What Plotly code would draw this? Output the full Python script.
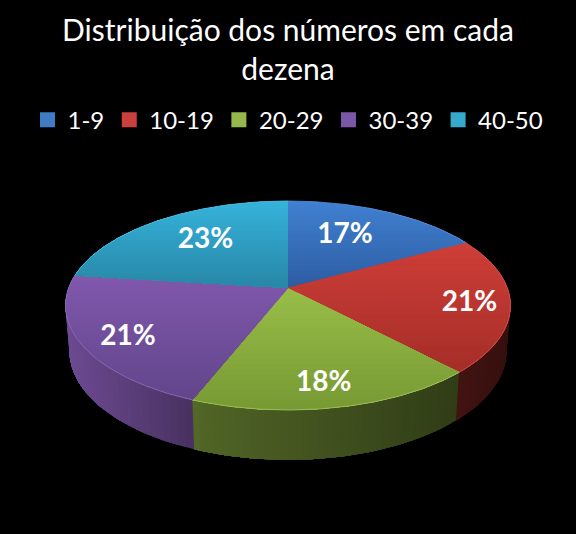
import numpy as np
import plotly.graph_objects as go

# chart data
faixas = ["1-9", "10-19", "20-29", "30-39", "40-50"]
percentuais = [17, 21, 18, 21, 23]
rotulos = ["17%", "21%", "18%", "21%", "23%"]

# colours of each slice: top and bottom of the gradient on the top face
cor_topo = [(64, 128, 208), (206, 62, 56), (152, 190, 72), (128, 88, 172), (54, 178, 218)]
cor_base = [(46, 94, 164), (166, 46, 40), (120, 154, 52), (98, 70, 140), (40, 136, 168)]
cor_legenda = ["#3f7cc4", "#c9403c", "#95b84a", "#7b57a8", "#35a8cc"]
# where the labels sit inside their slice
raio_rotulo = [0.66, 0.82, 0.807, 0.802, 0.674]
giro_rotulo = [-5, 0, 0.7, -1.8, 4]

# perspective of the disc, in pixels of the 576x534 page
CX, CY = 288, 288
A, B, K = 219.4, 101.6, 0.1675
A_FUNDO, B_FUNDO, Y_FUNDO = 215.5, 106, 332.5


def topo(t, r=1.0):
    """Point of the top face, t clockwise from 12 o'clock"""
    u, v = r * np.sin(t), r * np.cos(t)
    d = 1 + K * v
    return CX + A * u / d, CY - B * v / d


def fundo(t):
    """Point of the bottom rim"""
    u, v = np.sin(t), np.cos(t)
    d = 1 + K * v
    return CX + A_FUNDO * u / d, Y_FUNDO - B_FUNDO * v / d


def corta(pts, y_lim):
    """Keep the part of a polygon below a horizontal line"""
    saida = []
    for i in range(len(pts)):
        p, q = pts[i - 1], pts[i]
        if (p[1] >= y_lim) != (q[1] >= y_lim):
            f = (y_lim - p[1]) / (q[1] - p[1])
            saida.append((p[0] + f * (q[0] - p[0]), y_lim))
        if q[1] >= y_lim:
            saida.append(q)
    return saida


def mistura(c1, c2, f):
    return tuple(a + (b - a) * f for a, b in zip(c1, c2))


def rgb(c, fator=1.0):
    return "rgb(%d,%d,%d)" % tuple(min(255, int(v * fator)) for v in c)


def poligono(xs, ys, cor):
    return go.Scatter(
        x=list(xs), y=list(ys), mode="lines", fill="toself", fillcolor=cor,
        line=dict(width=0), hoverinfo="skip", showlegend=False,
    )


fig = go.Figure()

limites = np.cumsum([0] + percentuais) / sum(percentuais) * 2 * np.pi

# side wall first, the top face covers whatever is behind it
# each step paints up to the end of the slice so no seams show between steps
for i in range(len(percentuais)):
    ts = np.linspace(limites[i], limites[i + 1], 40)
    for k in range(len(ts) - 1):
        meio = (ts[k] + ts[k + 1]) / 2
        if np.cos(meio) > 0.35:
            continue
        resto = ts[k:]
        x_t, y_t = topo(resto)
        x_f, y_f = fundo(resto[::-1])
        luz = np.interp(topo(meio)[0], [66, 190, 200, 460, 511], [0.85, 0.57, 0.53, 0.32, 0.26])
        fig.add_trace(poligono(
            np.r_[x_t, x_f, x_t[0]], np.r_[y_t, y_f, y_t[0]], rgb(cor_topo[i], luz)
        ))

# top face, painted in bands from the top down for the gradient
for i in range(len(percentuais)):
    ts = np.linspace(limites[i], limites[i + 1], 120)
    ax, ay = topo(ts)
    fatia = [(CX, CY)] + list(zip(ax, ay))
    y_min, y_max = min(p[1] for p in fatia), max(p[1] for p in fatia)
    bandas = np.linspace(y_min, y_max, 25)[:-1]
    for j, y_b in enumerate(bandas):
        parte = corta(fatia, y_b) if j else fatia
        parte = parte + [parte[0]]
        cor = rgb(mistura(cor_topo[i], cor_base[i], j / (len(bandas) - 1)))
        fig.add_trace(poligono([p[0] for p in parte], [p[1] for p in parte], cor))
    # light rim on the edge of the disc
    fig.add_trace(go.Scatter(
        x=ax, y=ay, mode="lines", line=dict(color=rgb(mistura(cor_topo[i], (255, 255, 255), 0.12)), width=0.8),
        hoverinfo="skip", showlegend=False,
    ))

# data labels, the text box sits a little high so push it down
meios = (limites[:-1] + limites[1:]) / 2 + np.radians(giro_rotulo)
rx, ry = topo(meios, np.array(raio_rotulo))
fig.add_trace(go.Scatter(
    x=rx, y=ry + 3, mode="text", text=rotulos,
    textfont=dict(family="Lato", size=28, color="white", weight="bold"),
    hoverinfo="skip", showlegend=False,
))

# legend only traces
for nome, cor in zip(faixas, cor_legenda):
    fig.add_trace(go.Scatter(
        x=[None], y=[None], mode="markers", name=nome,
        marker=dict(symbol="square", size=15, color=cor),
    ))

fig.update_layout(
    width=576, height=534,
    paper_bgcolor="black", plot_bgcolor="black",
    margin=dict(l=0, r=0, t=0, b=0),
    showlegend=True,
    title=dict(
        text="Distribuição dos números em cada<br>dezena",
        x=0.5, xanchor="center", y=0.923, yanchor="top",
        font=dict(family="Lato", size=30, color="white"),
    ),
    legend=dict(
        orientation="h", x=0.5, xanchor="center", y=0.775, yanchor="middle",
        font=dict(family="Lato", size=24, color="white"),
        bgcolor="rgba(0,0,0,0)", itemclick=False, itemdoubleclick=False,
    ),
    xaxis=dict(range=[0, 576], visible=False, fixedrange=True),
    yaxis=dict(range=[534, 0], visible=False, fixedrange=True),
)

# the page margin would otherwise show white round the chart
fig.write_html(
    "out.html", config={"displayModeBar": False},
    post_script="document.body.style.margin='0';document.body.style.background='black';",
)
